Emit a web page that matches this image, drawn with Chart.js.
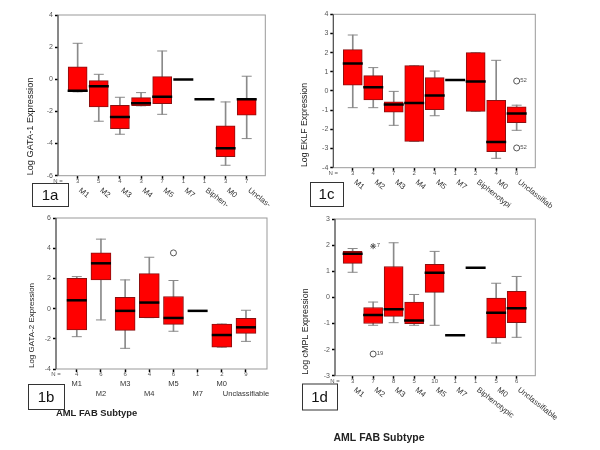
<!DOCTYPE html>
<html>
<head>
<meta charset="utf-8">
<script src="https://cdn.jsdelivr.net/npm/chart.js@4.4.0/dist/chart.umd.min.js"></script>
<style>
  body { margin: 0; background: #fff; }
  #wrap { position: relative; width: 600px; height: 450px; }
  #wrap canvas { position: absolute; left: 0; top: 0; }
</style>
</head>
<body>
<div id="wrap">
  <canvas id="chartA" width="600" height="450"></canvas>
  <canvas id="chartB" width="600" height="450"></canvas>
  <canvas id="chartC" width="600" height="450"></canvas>
  <canvas id="chartD" width="600" height="450"></canvas>
</div>
<script>
// DATA - 1a GATA-1
const catsA = ['M1', 'M2', 'M3', 'M4', 'M5', 'M7', 'Biphen-', 'M0', 'Unclas-'];
const nA   = [3, 5, 4, 3, 7, 1, 1, 3, 7];
const loA  = [-0.78, -2.61, -3.42, -1.65, -2.18, -0.02, -1.24, -5.35, -3.69];
const q1A  = [-0.77, -1.72, -3.07, -1.64, -1.51, -0.02, -1.24, -4.81, -2.24];
const medA = [-0.72, -0.44, -2.34, -1.49, -1.08, -0.02, -1.24, -4.29, -1.25];
const q3A  = [0.78, -0.08, -1.62, -1.14, 0.17, -0.02, -1.24, -2.90, -1.22];
const hiA  = [2.24, 0.31, -1.12, -0.83, 1.76, -0.02, -1.24, -1.41, 0.19];
const outXA = [], outYA = [], outLabA = [], outStyleA = [];

// DATA - 1b GATA-2
const catsB = ['M1', 'M2', 'M3', 'M4', 'M5', 'M7', 'M0', 'Unclassifiable'];
const nB   = [4, 6, 6, 4, 6, 1, 2, 9];
const loB  = [-1.86, -0.75, -2.63, -0.60, -1.50, -0.15, -2.56, -2.17];
const q1B  = [-1.41, 1.90, -1.44, -0.60, -1.04, -0.15, -2.56, -1.64];
const medB = [0.55, 3.00, -0.15, 0.40, -0.62, -0.15, -1.75, -1.24];
const q3B  = [2.01, 3.69, 0.75, 2.32, 0.80, -0.15, -1.02, -0.64];
const hiB  = [2.12, 4.60, 1.90, 3.40, 1.86, -0.15, -1.02, -0.11];
const outXB = [4], outYB = [3.69], outLabB = [''], outStyleB = ['circle'];

// DATA - 1c EKLF
const catsC = ['M1', 'M2', 'M3', 'M4', 'M5', 'M7', 'Biphenotypi', 'M0', 'Unclassifiab'];
const nC   = [3, 4, 7, 2, 4, 1, 2, 4, 6];
const loC  = [-0.87, -0.87, -1.79, -2.63, -1.29, 0.57, -1.06, -3.51, -2.05];
const q1C  = [0.30, -0.47, -1.11, -2.63, -0.97, 0.57, -1.06, -3.16, -1.65];
const medC = [1.44, 0.19, -0.70, -0.63, -0.23, 0.57, 0.49, -2.66, -1.17];
const q3C  = [2.16, 0.80, -0.57, 1.32, 0.70, 0.57, 2.00, -0.49, -0.82];
const hiC  = [2.92, 1.22, -0.02, 1.32, 1.04, 0.57, 2.00, 1.60, -0.74];
const outXC = [8, 8], outYC = [0.52, -2.97], outLabC = ['52', '52'], outStyleC = ['circle', 'circle'];

// DATA - 1d cMPL
const catsD = ['M1', 'M2', 'M3', 'M4', 'M5', 'M7', 'Biphenotypic', 'M0', 'Unclassifiable'];
const nD   = [3, 7, 8, 5, 10, 1, 1, 5, 6];
const loD  = [0.96, -1.07, -0.97, -1.07, -1.07, -1.45, 1.13, -1.75, -1.53];
const q1D  = [1.30, -1.00, -0.73, -1.01, 0.19, -1.45, 1.13, -1.55, -0.97];
const medD = [1.67, -0.68, -0.46, -0.89, 0.94, -1.45, 1.13, -0.59, -0.42];
const q3D  = [1.76, -0.39, 1.18, -0.18, 1.26, -1.45, 1.13, -0.03, 0.23];
const hiD  = [1.87, -0.18, 2.09, 0.11, 1.76, -1.45, 1.13, 0.54, 0.80];
const outXD = [1, 1], outYD = [1.96, -2.17], outLabD = ['7', '19'], outStyleD = ['star', 'circle'];

const FONT = '"Liberation Sans", Arial, sans-serif';
Chart.defaults.font.family = FONT;
Chart.defaults.animation = false;

// LAYOUT (page pixels) for each panel
const panels = [
  { canvas: 'chartA', cats: catsA, n: nA, lo: loA, q1: q1A, med: medA, q3: q3A, hi: hiA,
    outX: outXA, outY: outYA, outLab: outLabA, outStyle: outStyleA,
    area: { left: 58, top: 15, right: 265.3, bottom: 175.7 }, xMin: -0.93, xMax: 8.88,
    yMin: -6, yMax: 4, yStep: 2, boxW: 19, nY: 181.5, labels: 'rotate',
    yTitle: 'Log GATA-1 Expression', yTitleX: 30, yTitleY: 126.5, yTitleSize: 9.2,
    tag: '1a', tagBox: [32, 183, 36, 23] },
  { canvas: 'chartB', cats: catsB, n: nB, lo: loB, q1: q1B, med: medB, q3: q3B, hi: hiB,
    outX: outXB, outY: outYB, outLab: outLabB, outStyle: outStyleB,
    area: { left: 56, top: 218, right: 267, bottom: 369 }, xMin: -0.86, xMax: 7.87,
    yMin: -4, yMax: 6, yStep: 2, boxW: 20, nY: 374.3, labels: 'stagger',
    yTitle: 'Log GATA-2 Expression', yTitleX: 31.7, yTitleY: 325.5, yTitleSize: 8,
    tag: '1b', tagBox: [28, 384, 36, 25],
    xTitle: 'AML FAB Subtype', xTitleX: 56, xTitleY: 413.5, xTitleSize: 9.4, xTitleAlign: 'left' },
  { canvas: 'chartC', cats: catsC, n: nC, lo: loC, q1: q1C, med: medC, q3: q3C, hi: hiC,
    outX: outXC, outY: outYC, outLab: outLabC, outStyle: outStyleC,
    area: { left: 333.3, top: 14.3, right: 535.3, bottom: 167.7 }, xMin: -0.95, xMax: 8.91,
    yMin: -4, yMax: 4, yStep: 1, boxW: 19, nY: 173.3, labels: 'rotate',
    yTitle: 'Log EKLF Expression', yTitleX: 304.7, yTitleY: 125, yTitleSize: 8.7,
    tag: '1c', tagBox: [310, 182, 33, 24] },
  { canvas: 'chartD', cats: catsD, n: nD, lo: loD, q1: q1D, med: medD, q3: q3D, hi: hiD,
    outX: outXD, outY: outYD, outLab: outLabD, outStyle: outStyleD,
    area: { left: 335, top: 219, right: 535.3, bottom: 375.7 }, xMin: -0.86, xMax: 8.91,
    yMin: -3, yMax: 3, yStep: 1, boxW: 19, nY: 381, labels: 'rotate',
    yTitle: 'Log cMPL Expression', yTitleX: 306, yTitleY: 331.5, yTitleSize: 8.9,
    tag: '1d', tagBox: [302, 383.5, 35, 26],
    xTitle: 'AML FAB Subtype', xTitleX: 379, xTitleY: 438, xTitleSize: 10.5, xTitleAlign: 'center' }
];

// build the box plot pieces (whisker, caps, box, median, outliers)
function boxDatasets(P) {
  const idx = P.med.map((_, i) => i);
  const spread = idx.filter(i => P.hi[i] > P.lo[i]);
  return [
    { type: 'bar', order: 5, grouped: false, barThickness: 1, backgroundColor: '#8a8a8a', borderWidth: 0,
      data: spread.map(i => ({ x: i, y: [P.lo[i], P.hi[i]] })) },
    { type: 'line', order: 4, showLine: false, pointStyle: 'line', pointRadius: 5, pointHoverRadius: 5,
      pointBorderColor: '#8a8a8a', pointBorderWidth: 1,
      data: spread.flatMap(i => [{ x: i, y: P.lo[i] }, { x: i, y: P.hi[i] }]) },
    { type: 'bar', order: 3, grouped: false, barThickness: P.boxW, backgroundColor: '#ff0000',
      borderColor: '#8b1010', borderWidth: 1, borderSkipped: false,
      data: idx.filter(i => P.q3[i] > P.q1[i]).map(i => ({ x: i, y: [P.q1[i], P.q3[i]] })) },
    { type: 'line', order: 2, showLine: false, pointStyle: 'line', pointRadius: 10, pointHoverRadius: 10,
      pointBorderColor: '#000', pointBorderWidth: 2.5,
      data: idx.map(i => ({ x: i, y: P.med[i] })) },
    { type: 'line', order: 1, showLine: false, pointStyle: P.outStyle, pointRadius: 3, pointHoverRadius: 3,
      pointBackgroundColor: '#fff', pointBorderColor: '#555', pointBorderWidth: 1,
      data: P.outX.map((x, k) => ({ x: x, y: P.outY[k] })) }
  ];
}

// frame, N row, category labels, titles, panel tag
function drawExtras(chart, P) {
  const ctx = chart.ctx;
  const a = chart.chartArea;
  const xs = chart.scales.x, ys = chart.scales.y;
  ctx.save();

  ctx.lineWidth = 1;
  ctx.strokeStyle = '#999';
  ctx.strokeRect(a.left, a.top, a.right - a.left, a.bottom - a.top);
  ctx.strokeStyle = '#444';
  ctx.beginPath(); ctx.moveTo(a.left, a.top); ctx.lineTo(a.left, a.bottom); ctx.stroke();

  // outlier case numbers
  ctx.font = '6px ' + FONT;
  ctx.fillStyle = '#555';
  ctx.textAlign = 'left'; ctx.textBaseline = 'middle';
  P.outX.forEach((x, k) => {
    if (P.outLab[k]) ctx.fillText(P.outLab[k], xs.getPixelForValue(x) + 3.5, ys.getPixelForValue(P.outY[k]) - 1);
  });

  // N row
  ctx.textAlign = 'center';
  ctx.fillText('N =', a.left, P.nY);
  P.n.forEach((v, i) => ctx.fillText(String(v), xs.getPixelForValue(i), P.nY));

  // category labels
  ctx.fillStyle = '#333';
  if (P.labels === 'rotate') {
    ctx.font = '7.8px ' + FONT;
    ctx.textAlign = 'left';
    P.cats.forEach((c, i) => {
      ctx.save();
      ctx.translate(xs.getPixelForValue(i) + 2, P.nY + 8);
      ctx.rotate(38 * Math.PI / 180);
      ctx.fillText(c, 0, 0);
      ctx.restore();
    });
  } else {
    ctx.font = '7.5px ' + FONT;
    ctx.textAlign = 'center';
    P.cats.forEach((c, i) => {
      ctx.fillText(c, xs.getPixelForValue(i), i % 2 === 0 ? P.nY + 9.5 : P.nY + 20);
    });
  }

  // y title
  ctx.save();
  ctx.fillStyle = '#222';
  ctx.font = P.yTitleSize + 'px ' + FONT;
  ctx.textAlign = 'center';
  ctx.translate(P.yTitleX, P.yTitleY);
  ctx.rotate(-Math.PI / 2);
  ctx.fillText(P.yTitle, 0, 0);
  ctx.restore();

  // x title
  if (P.xTitle) {
    ctx.fillStyle = '#222';
    ctx.font = 'bold ' + P.xTitleSize + 'px ' + FONT;
    ctx.textAlign = P.xTitleAlign;
    ctx.fillText(P.xTitle, P.xTitleX, P.xTitleY);
  }

  // panel tag box
  const t = P.tagBox;
  ctx.fillStyle = '#fff';
  ctx.fillRect(t[0], t[1], t[2], t[3]);
  ctx.strokeStyle = '#333';
  ctx.strokeRect(t[0] + 0.5, t[1] + 0.5, t[2], t[3]);
  ctx.fillStyle = '#111';
  ctx.font = '15px ' + FONT;
  ctx.textAlign = 'center';
  ctx.fillText(P.tag, t[0] + t[2] / 2, t[1] + t[3] / 2 + 1);

  ctx.restore();
}

function makePanel(P) {
  const ctx = document.getElementById(P.canvas).getContext('2d');
  new Chart(ctx, {
    type: 'bar',
    data: { datasets: boxDatasets(P) },
    options: {
      responsive: false,
      animation: false,
      layout: {
        padding: {
          left: P.area.left - 20,
          top: P.area.top,
          right: 600 - P.area.right,
          bottom: 450 - P.area.bottom - 4
        }
      },
      scales: {
        x: {
          type: 'linear', min: P.xMin, max: P.xMax, offset: false,
          afterBuildTicks: s => { s.ticks = P.cats.map((c, i) => ({ value: i })); },
          afterFit: s => { s.height = 4; },
          ticks: { display: false },
          grid: { offset: false, drawOnChartArea: false, drawTicks: true, tickLength: 3, tickColor: '#000', tickWidth: 1.5 },
          border: { display: false }
        },
        y: {
          min: P.yMin, max: P.yMax,
          afterFit: s => { s.width = 20; },
          ticks: { stepSize: P.yStep, padding: 2, color: '#555', font: { size: 7 } },
          grid: { drawOnChartArea: false, drawTicks: true, tickLength: 3, tickColor: '#000', tickWidth: 1.5 },
          border: { display: false }
        }
      },
      plugins: { legend: { display: false }, tooltip: { enabled: false } }
    },
    plugins: [{ id: 'extras', afterDraw: chart => drawExtras(chart, P) }]
  });
}

panels.forEach(makePanel);
</script>
</body>
</html>
